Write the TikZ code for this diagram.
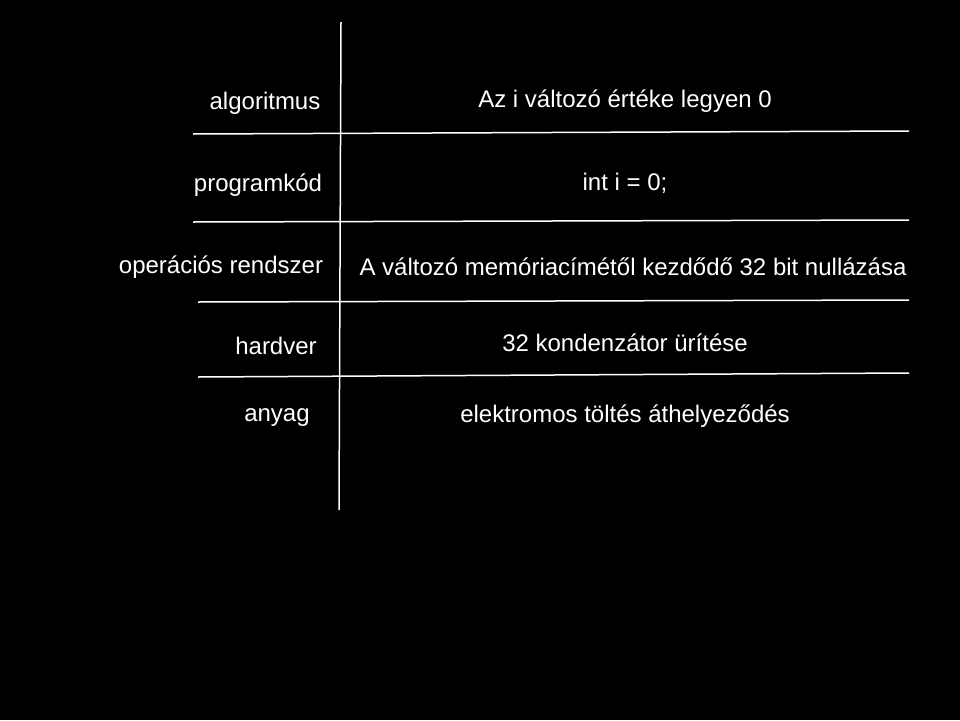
\documentclass[tikz,border=0pt]{standalone}
\usepackage{fontspec}
\setmainfont{Liberation Sans}
\begin{document}
\begin{tikzpicture}[x=1pt,y=-1pt,
  lbl/.style={text=white,font=\fontsize{24}{28}\selectfont,inner sep=0pt,anchor=center},
  rule/.style={draw=white,line width=1.5pt}]
\fill[black] (0,0) rectangle (960,720);
\useasboundingbox (0,0) rectangle (960,720);
\draw[rule] (341,22) -- (339,510);
\draw[rule] (193,134) -- (909,131);
\draw[rule] (193,222) -- (909,220);
\draw[rule] (198,302) -- (909,300);
\draw[rule] (198,377) -- (909,373);
\node[lbl] (l1) at (265,103) {algoritmus};
\node[lbl] (l2) at (258,185) {programkód};
\node[lbl] (l3) at (221,267) {operációs rendszer};
\node[lbl] (l4) at (276,346) {hardver};
\node[lbl] (l5) at (277,418) {anyag};
\node[lbl] (r1) at (625,101) {Az i változó értéke legyen 0};
\node[lbl] (r2) at (625,183) {int i = 0;};
\node[lbl] (r3) at (633,267) {A változó memóriacímétől kezdődő 32 bit nullázása};
\node[lbl] (r4) at (625,343) {32 kondenzátor ürítése};
\node[lbl] (r5) at (625,416) {elektromos töltés áthelyeződés};
\end{tikzpicture}
\end{document}
